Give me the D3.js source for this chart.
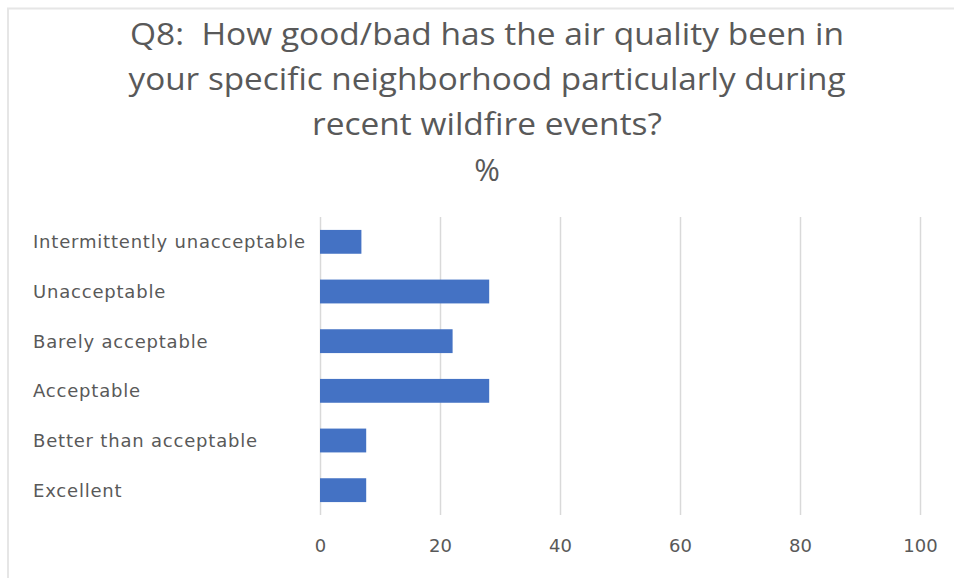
<!DOCTYPE html>
<html>
<head>
<meta charset="utf-8">
<script src="https://cdn.jsdelivr.net/npm/d3@7"></script>
<style>
  html, body { margin: 0; padding: 0; background: #fff; }
  svg { display: block; }
  .title text { white-space: pre; }
</style>
</head>
<body>
<div id="chart"></div>
<script>
// Survey responses, percent of respondents
const categories = [
  "Intermittently unacceptable",
  "Unacceptable",
  "Barely acceptable",
  "Acceptable",
  "Better than acceptable",
  "Excellent"
];
const percents = [6.9, 28.2, 22.1, 28.2, 7.7, 7.7];
const xTicks = [0, 20, 40, 60, 80, 100];
const titleLines = [
  "Q8:  How good/bad has the air quality been in",
  "your specific neighborhood particularly during",
  "recent wildfire events?",
  "%"
];

const W = 954, H = 578;
const plot = { left: 320, right: 920, top: 217, bottom: 515 };
const textColor = "#595959";
const barColor = "#4472C4";
const gridColor = "#d9d9d9";

const svg = d3.select("#chart").append("svg")
  .attr("width", W).attr("height", H);

svg.append("rect").attr("width", W).attr("height", H).attr("fill", "#fff");

// chart area frame
svg.append("rect")
  .attr("x", 8).attr("y", 8.5)
  .attr("width", W + 20).attr("height", H + 20)
  .attr("fill", "none")
  .attr("stroke", "#e6e6e6")
  .attr("stroke-width", 2);

// title
const titleFont = "'Liberation Sans Narrow', 'Open Sans', 'Noto Sans', sans-serif";
const titleWidths = [714, 717, 350, null];
const titleBaselines = [45, 90, 135, 181];
svg.append("g").attr("class", "title").selectAll("text")
  .data(titleLines)
  .join("text")
  .attr("x", 487)
  .attr("y", (d, i) => titleBaselines[i])
  .attr("text-anchor", "middle")
  .attr("font-family", titleFont)
  .attr("font-size", 31)
  .attr("font-weight", 500)
  .attr("fill", textColor)
  .each(function (d, i) {
    if (titleWidths[i]) {
      d3.select(this)
        .attr("textLength", titleWidths[i])
        .attr("lengthAdjust", "spacingAndGlyphs");
    }
  })
  .text(d => d);

const x = d3.scaleLinear().domain([0, 100]).range([plot.left, plot.right]);
const y = d3.scaleBand()
  .domain(categories)
  .range([plot.top, plot.bottom])
  .paddingInner(0.52)
  .paddingOuter(0.26);

// vertical gridlines
const grid = svg.append("g")
  .attr("transform", `translate(0,${plot.bottom})`)
  .call(d3.axisBottom(x).tickValues(xTicks)
    .tickSize(-(plot.bottom - plot.top)).tickFormat(""));
grid.select(".domain").remove();
grid.selectAll("line").attr("stroke", gridColor).attr("stroke-width", 1.5);

// bars
svg.append("g").selectAll("rect")
  .data(categories)
  .join("rect")
  .attr("x", x(0))
  .attr("y", d => y(d))
  .attr("width", (d, i) => x(percents[i]) - x(0))
  .attr("height", y.bandwidth())
  .attr("fill", barColor);

const labelFont = "'DejaVu Sans', Verdana, sans-serif";

// x axis tick labels
const xAxis = svg.append("g")
  .attr("transform", `translate(0,${plot.bottom})`)
  .call(d3.axisBottom(x).tickValues(xTicks).tickSize(0).tickPadding(24));
xAxis.select(".domain").remove();
xAxis.selectAll("text")
  .attr("font-family", labelFont)
  .attr("font-size", 18)
  .attr("fill", textColor);

// category labels, left aligned
svg.append("g").selectAll("text")
  .data(categories)
  .join("text")
  .attr("x", 33)
  .attr("y", d => y(d) + y.bandwidth() / 2)
  .attr("dy", "0.36em")
  .attr("font-family", labelFont)
  .attr("font-size", 18)
  .attr("letter-spacing", 0.8)
  .attr("fill", textColor)
  .text(d => d);
</script>
</body>
</html>
